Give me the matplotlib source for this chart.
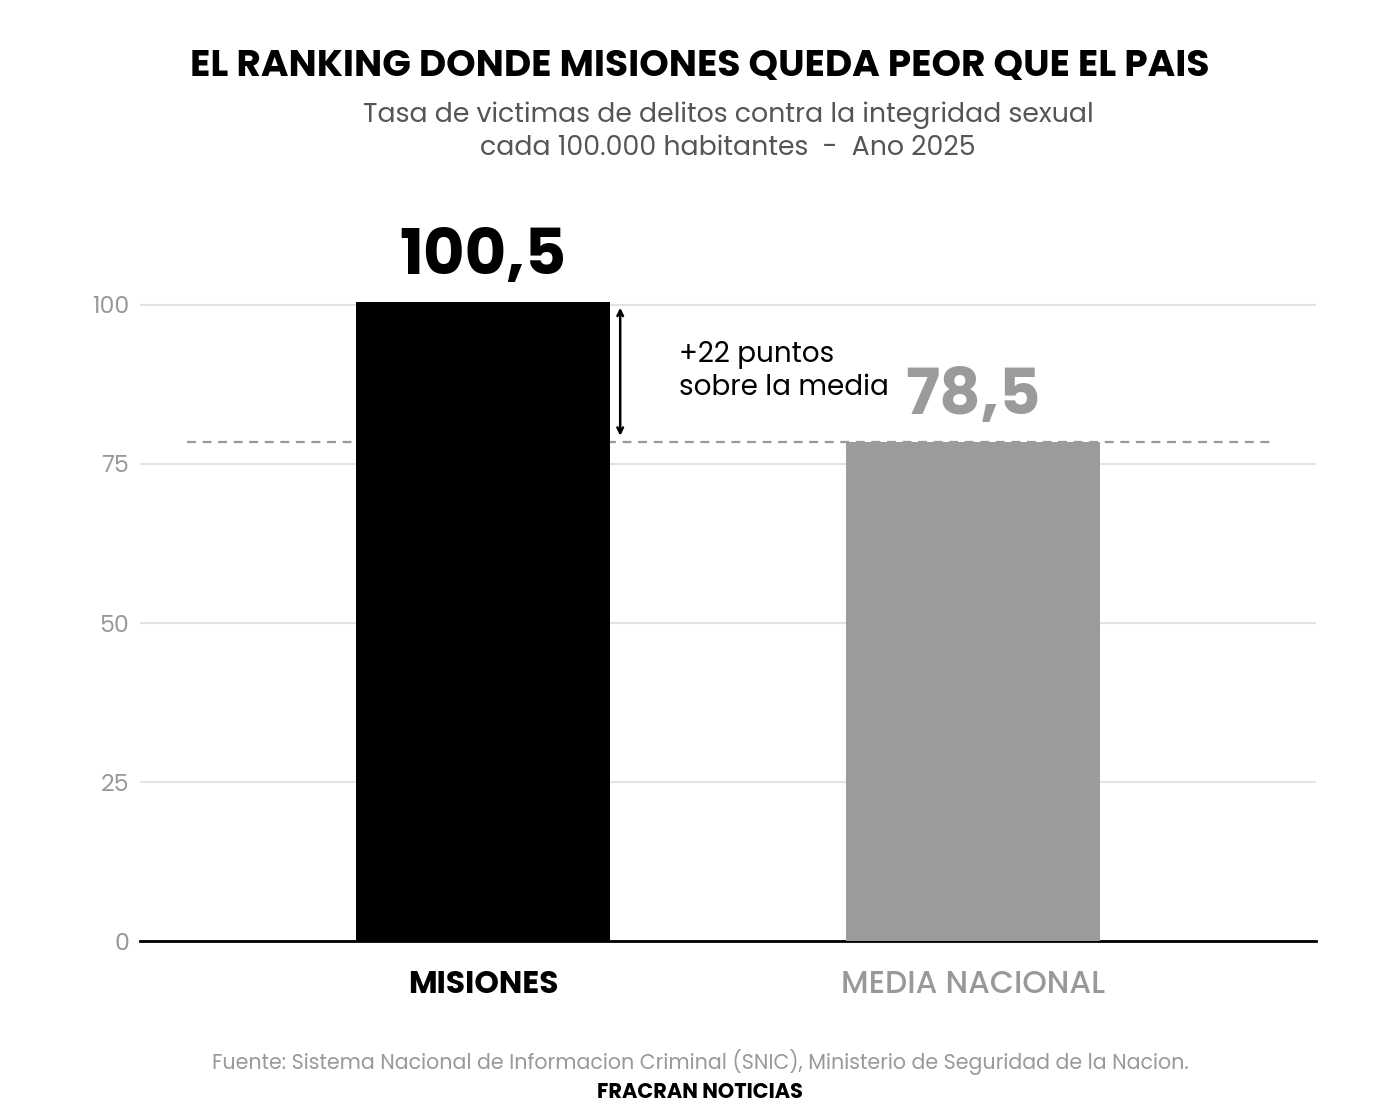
import matplotlib
matplotlib.use("Agg")
import matplotlib.pyplot as plt

categories = ["MISIONES", "MEDIA NACIONAL"]
values = [100.5, 78.5]
value_labels = ["100,5", "78,5"]
colors = ["#000000", "#9b9b9b"]
yticks = [0, 25, 50, 75, 100]
media = 78.5

plt.rcParams['font.family'] = ['Poppins', 'Lato', 'DejaVu Sans']
fig = plt.figure(figsize=(14, 11.2), dpi=100)
ax = fig.add_axes([0.1, 0.1598, 0.84, 0.6616])
x = [0, 1]
ax.bar(x, values, width=0.52, color=colors, zorder=3)
ax.set_xlim(-0.7, 1.7)
ax.set_ylim(0, 116.5)
ax.set_yticks(yticks)
ax.set_yticklabels([str(t) for t in yticks], color="#999999", fontsize=17)
ax.grid(axis="y", color="#e3e3e3", lw=1.5, zorder=0)
ax.tick_params(axis="y", length=0, pad=8)
ax.tick_params(axis="x", length=0, pad=20)
ax.set_xticks(x)
ax.set_xticklabels(categories, fontsize=22.5)
ax.get_xticklabels()[0].set_fontweight("bold")
ax.get_xticklabels()[1].set_color("#999999")
ax.get_xticklabels()[1].set_fontweight("medium")
for s in ["top", "right", "left"]:
    ax.spines[s].set_visible(False)
ax.spines["bottom"].set_linewidth(2)
ax.plot([-0.604, 1.606], [media, media], ls=(0, (4, 3)), color="#999999", lw=1.6, zorder=2)
ax.text(0, 107.2, value_labels[0], ha="center", va="center", fontsize=46, fontweight="bold", color="#000000")
ax.text(1, 85.2, value_labels[1], ha="center", va="center", fontsize=46, fontweight="bold", color="#9b9b9b")
ax.annotate("", xy=(0.28, values[1] + 0.5), xytext=(0.28, values[0] - 0.5),
            arrowprops=dict(arrowstyle="<->", color="black", lw=1.8))
ax.text(0.4, 89.5, "+22 puntos\nsobre la media", ha="left", va="center", fontsize=20, linespacing=1.25)

fig.text(0.5, 1 - 67/1120, "EL RANKING DONDE MISIONES QUEDA PEOR QUE EL PAIS", ha="center", va="center",
         fontsize=27, fontweight="bold")
fig.text(0.52, 1 - 132/1120, "Tasa de victimas de delitos contra la integridad sexual\ncada 100.000 habitantes  -  Ano 2025",
         ha="center", va="center", fontsize=19.3, color="#555555", linespacing=1.3)
fig.text(0.5, 1 - 1062/1120, "Fuente: Sistema Nacional de Informacion Criminal (SNIC), Ministerio de Seguridad de la Nacion.",
         ha="center", va="center", fontsize=14.8, color="#999999")
fig.text(0.5, 1 - 1093/1120, "FRACRAN NOTICIAS", ha="center", va="center", fontsize=15, fontweight="bold")
fig.savefig("out.png", dpi=100)
